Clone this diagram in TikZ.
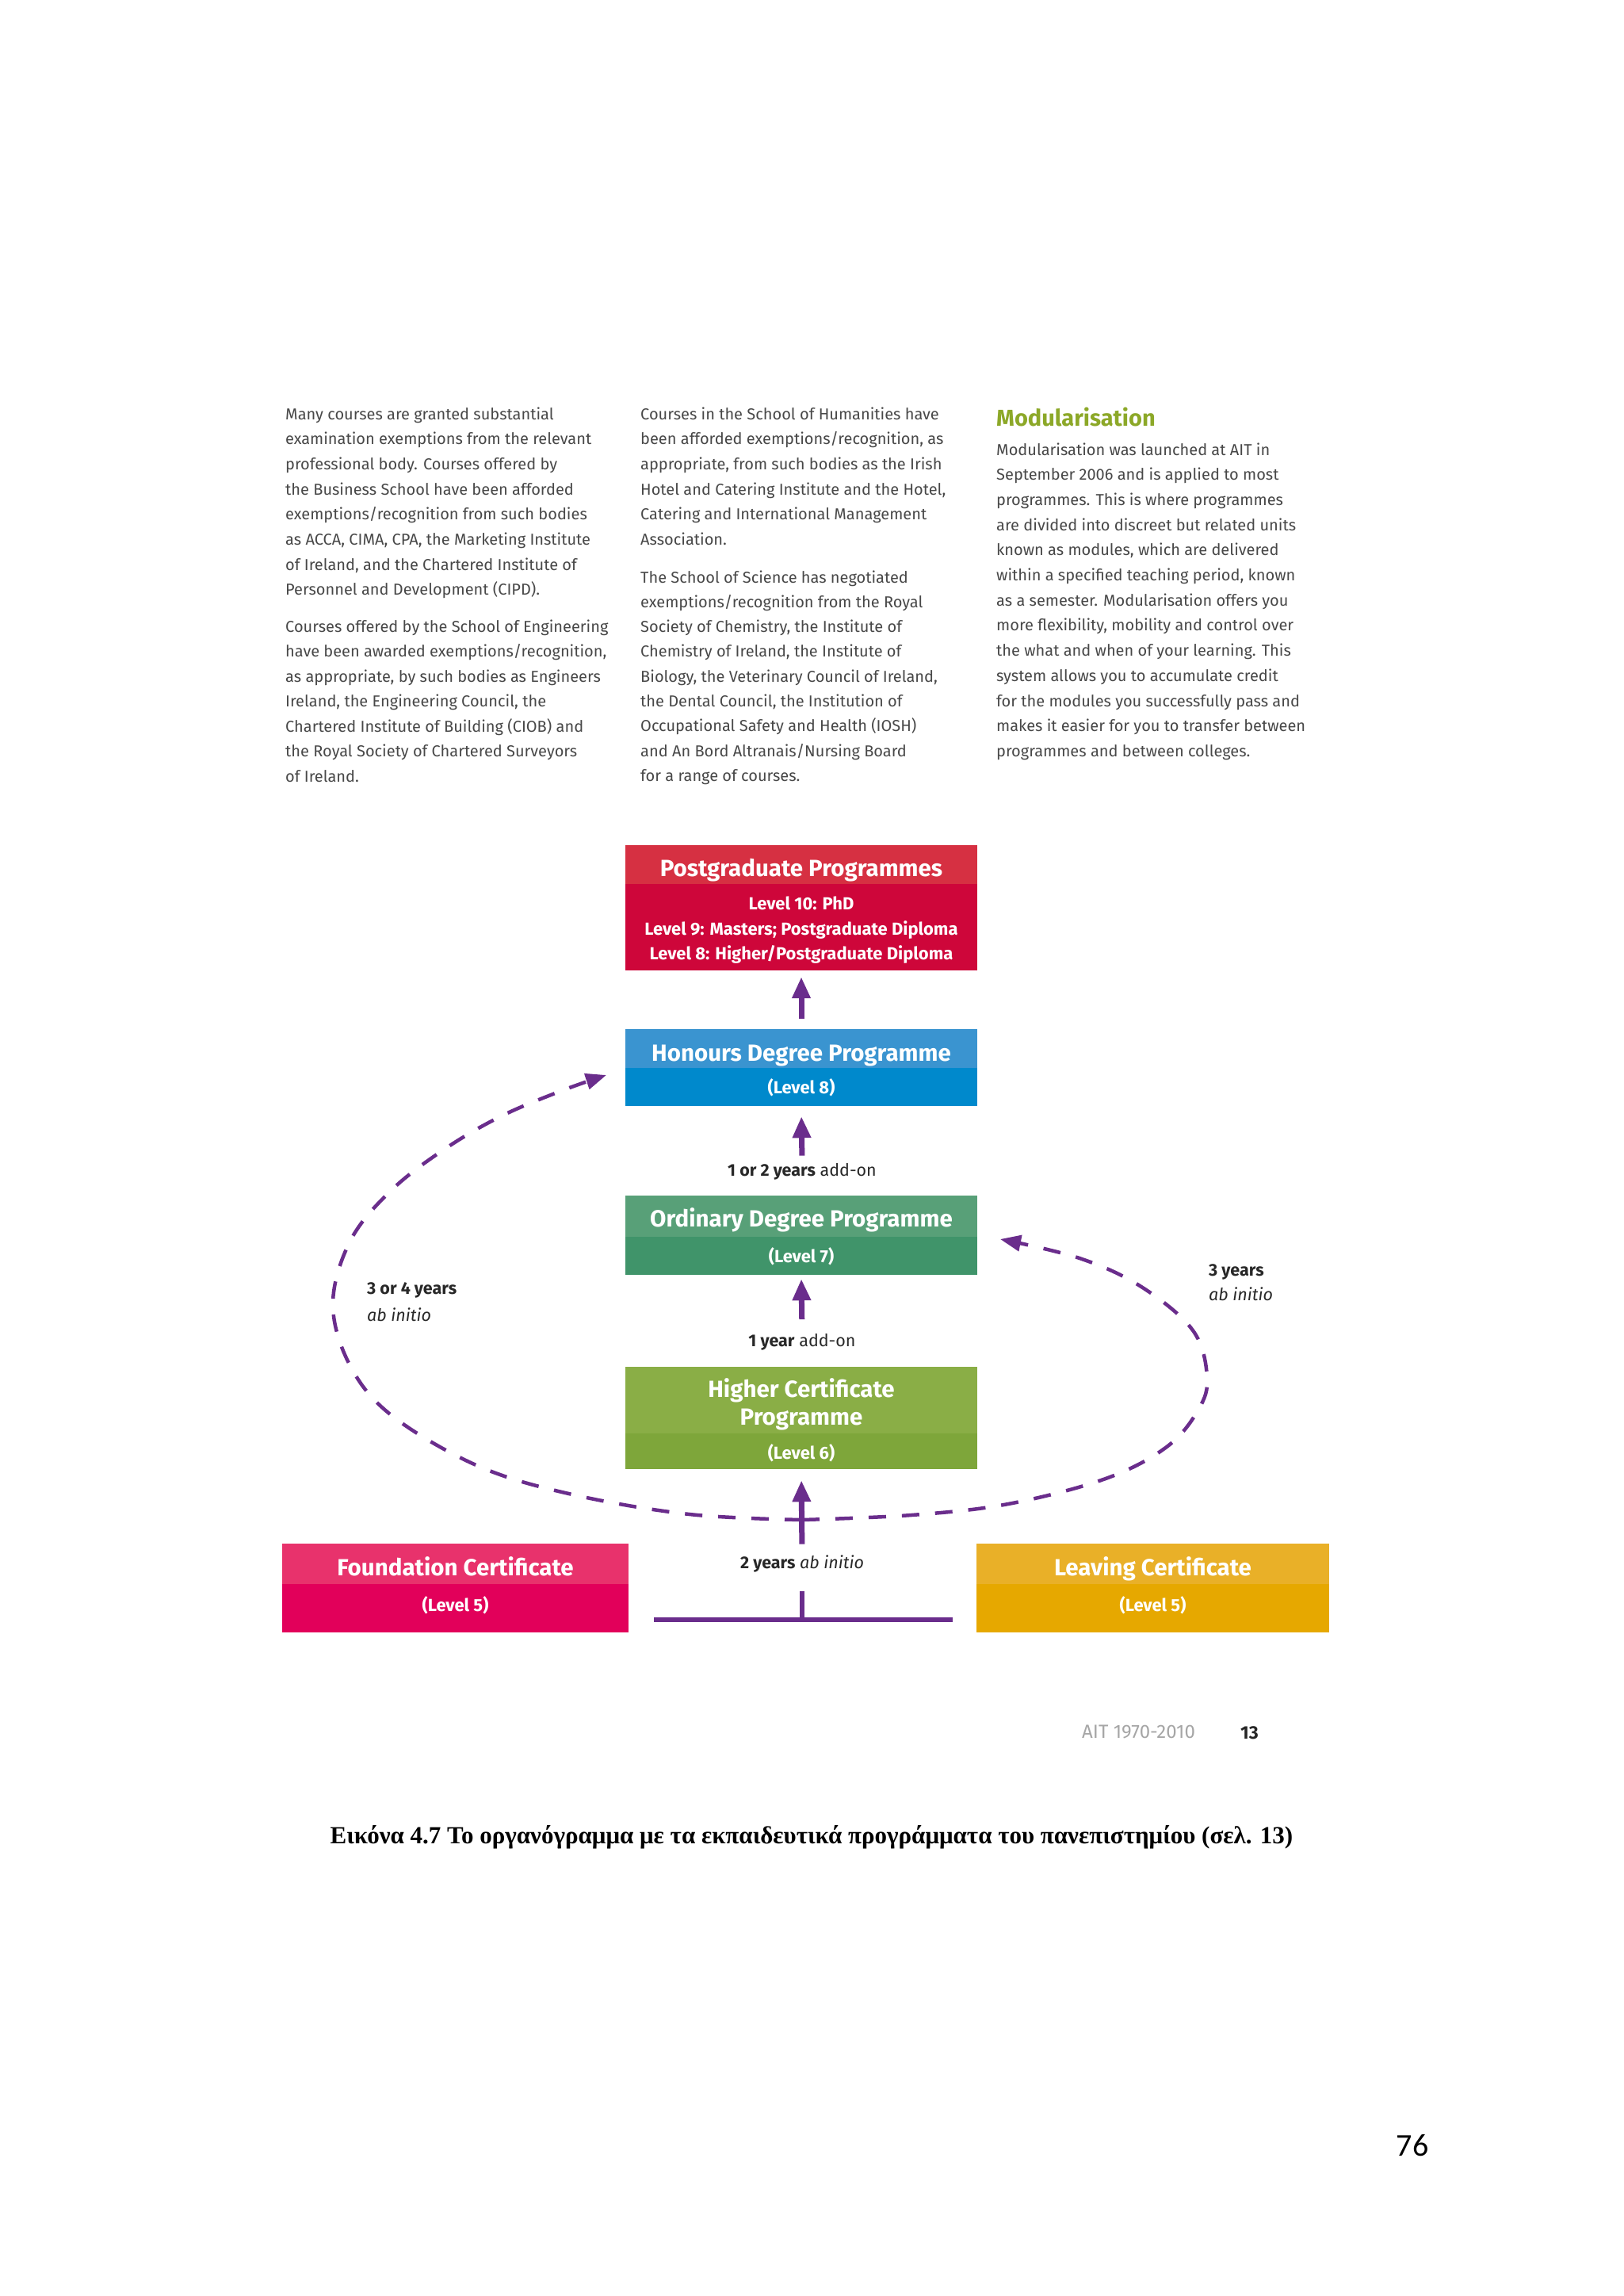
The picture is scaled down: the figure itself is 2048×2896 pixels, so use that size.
\documentclass[tikz,border=0pt]{standalone}
\usepackage{fontspec}
\setmainfont{Fira Sans}
\newfontfamily\capfont{Liberation Serif}
\newfontfamily\numfont{Carlito}
\usetikzlibrary{arrows.meta,calc}
\definecolor{purp}{RGB}{106,45,140}
\definecolor{bodygray}{RGB}{72,72,72}
\definecolor{lblgray}{RGB}{40,40,40}
\definecolor{modgreen}{RGB}{140,168,40}
\definecolor{pghead}{RGB}{214,48,66}
\definecolor{pglow}{RGB}{206,6,58}
\definecolor{honhead}{RGB}{58,148,208}
\definecolor{honlow}{RGB}{0,137,204}
\definecolor{ordhead}{RGB}{88,160,120}
\definecolor{ordlow}{RGB}{64,148,106}
\definecolor{hchead}{RGB}{138,174,70}
\definecolor{hclow}{RGB}{126,166,58}
\definecolor{fchead}{RGB}{232,50,108}
\definecolor{fclow}{RGB}{226,0,90}
\definecolor{lchead}{RGB}{233,176,40}
\definecolor{lclow}{RGB}{230,168,0}
\tikzset{
  body/.style={font={\fontsize{20}{24}\selectfont}, text=bodygray, inner sep=0pt, anchor=base west},
  boxnode/.style={rectangle, inner sep=0pt, draw=none},
  ttl/.style={font={\fontsize{29.5}{32}\selectfont\bfseries}, text=white, inner sep=0pt, anchor=base},
  sub/.style={font={\fontsize{22}{24}\selectfont\bfseries}, text=white, inner sep=0pt, anchor=base},
  lbl/.style={font={\fontsize{21.5}{24}\selectfont}, text=lblgray, inner sep=0pt},
  uparrow/.style={draw=purp, line width=7pt, -{Triangle[length=27pt,width=22pt]}},
  tline/.style={draw=purp, line width=6.5pt},
  dashcurve/.style={draw=purp, line width=4.5pt, dash pattern=on 22pt off 20pt, -{Triangle[length=26pt,width=20pt]}}
}
\newcommand\mypara[4]{%
  \foreach \t [count=\i from 0] in {#4} {\node[body] at (#1,{#2+#3*\i}) {\t};}}
\begin{document}
\begin{tikzpicture}[x=1pt,y=-1pt]
\useasboundingbox[fill=white] (0,0) rectangle (2048,2896);

% ---- text columns ----
\mypara{360}{529}{31.7}{{Many courses are granted substantial},
{examination exemptions from the relevant},
{professional body. Courses offered by},
{the Business School have been afforded},
{exemptions/recognition from such bodies},
{as ACCA, CIMA, CPA, the Marketing Institute},
{of Ireland, and the Chartered Institute of},
{Personnel and Development (CIPD).}}
\mypara{360}{797}{31.5}{{Courses offered by the School of Engineering},
{have been awarded exemptions/recognition,},
{as appropriate, by such bodies as Engineers},
{Ireland, the Engineering Council, the},
{Chartered Institute of Building (CIOB) and},
{the Royal Society of Chartered Surveyors},
{of Ireland.}}
\mypara{808}{529}{31.7}{{Courses in the School of Humanities have},
{been afforded exemptions/recognition, as},
{appropriate, from such bodies as the Irish},
{Hotel and Catering Institute and the Hotel,},
{Catering and International Management},
{Association.}}
\mypara{808}{735}{31.3}{{The School of Science has negotiated},
{exemptions/recognition from the Royal},
{Society of Chemistry, the Institute of},
{Chemistry of Ireland, the Institute of},
{Biology, the Veterinary Council of Ireland,},
{the Dental Council, the Institution of},
{Occupational Safety and Health (IOSH)},
{and An Bord Altranais/Nursing Board},
{for a range of courses.}}
\node[font={\fontsize{29}{30}\selectfont\bfseries}, text=modgreen, inner sep=0pt, anchor=base west] (modh) at (1257,537) {Modularisation};
\mypara{1257}{574}{31.7}{{Modularisation was launched at AIT in},
{September 2006 and is applied to most},
{programmes. This is where programmes},
{are divided into discreet but related units},
{known as modules, which are delivered},
{within a specified teaching period, known},
{as a semester. Modularisation offers you},
{more flexibility, mobility and control over},
{the what and when of your learning. This},
{system allows you to accumulate credit},
{for the modules you successfully pass and},
{makes it easier for you to transfer between},
{programmes and between colleges.}}

% ---- boxes ----
\node[boxnode, fill=pglow, minimum width=444pt, minimum height=158pt] (pg) at (1011,1145) {};
\fill[pghead] (pg.north west) rectangle ($(pg.north east)+(0,49)$);
\node[ttl] (pgt) at (1011,1105) {Postgraduate Programmes};
\node[sub] (pg1) at (1011,1147.5) {Level 10: PhD};
\node[sub] (pg2) at (1011,1179.5) {Level 9: Masters; Postgraduate Diploma};
\node[sub] (pg3) at (1011,1210.5) {Level 8: Higher/Postgraduate Diploma};

\node[boxnode, fill=honlow, minimum width=444pt, minimum height=97pt] (hon) at (1011,1346.5) {};
\fill[honhead] (hon.north west) rectangle ($(hon.north east)+(0,49)$);
\node[ttl] (hont) at (1011,1338) {Honours Degree Programme};
\node[sub] (honl) at (1011,1379) {(Level 8)};

\node[boxnode, fill=ordlow, minimum width=444pt, minimum height=100pt] (ord) at (1011,1558) {};
\fill[ordhead] (ord.north west) rectangle ($(ord.north east)+(0,52)$);
\node[ttl] (ordt) at (1011,1547) {Ordinary Degree Programme};
\node[sub] (ordl) at (1011,1592) {(Level 7)};

\node[boxnode, fill=hclow, minimum width=444pt, minimum height=129pt] (hc) at (1011,1788.5) {};
\fill[hchead] (hc.north west) rectangle ($(hc.north east)+(0,84)$);
\node[ttl] (hct1) at (1011,1762) {Higher Certificate};
\node[ttl] (hct2) at (1011,1797) {Programme};
\node[sub] (hcl) at (1011,1840) {(Level 6)};

\node[boxnode, fill=fclow, minimum width=437pt, minimum height=112pt] (fc) at (574.5,2003) {};
\fill[fchead] (fc.north west) rectangle ($(fc.north east)+(0,51)$);
\node[ttl] (fct) at (574.5,1987) {Foundation Certificate};
\node[sub] (fcl) at (574.5,2032) {(Level 5)};

\node[boxnode, fill=lclow, minimum width=445pt, minimum height=112pt] (lc) at (1454.5,2003) {};
\fill[lchead] (lc.north west) rectangle ($(lc.north east)+(0,51)$);
\node[ttl] (lct) at (1454.5,1987) {Leaving Certificate};
\node[sub] (lcl) at (1454.5,2032) {(Level 5)};

% ---- labels ----
\node[lbl, anchor=base] (l1) at (1012,1483) {\textbf{1 or 2 years} add-on};
\node[lbl, anchor=base] (l2) at (1012,1698.5) {\textbf{1 year} add-on};
\node[lbl, anchor=base] (l3) at (1012,1978.5) {\textbf{2 years} \textit{ab initio}};
\node[lbl, anchor=base west] (ll1) at (463,1632) {\textbf{3 or 4 years}};
\node[lbl, anchor=base west] (ll2) at (463,1666) {\textit{ab initio}};
\node[lbl, anchor=base west] (rl1) at (1525,1609) {\textbf{3 years}};
\node[lbl, anchor=base west] (rl2) at (1525,1640) {\textit{ab initio}};

% ---- dashed curves ----
\coordinate (db) at (1012,1917);
\coordinate (dl) at (765,1356);
\coordinate (dr) at (1262,1563);
\draw[dashcurve] plot[smooth, tension=0.6] coordinates {(db) (870,1910) (722,1885) (603,1849) (495,1786) (442,1723) (420,1645) (442,1565) (493,1502) (560,1450) (632,1408) (708,1376) (dl)};
\draw[dashcurve] plot[smooth, tension=0.6] coordinates {(db) (1150,1911) (1272,1897) (1395,1865) (1472,1825) (1512,1778) (1523,1737) (1505,1678) (1440,1623) (1362,1587) (dr)};

% ---- arrows ----
\draw[uparrow, shorten <=13pt, shorten >=8pt] (hon.north) -- (pg.south);
\draw[uparrow, shorten <=9pt, shorten >=13pt] (l1.north) -- (hon.south);
\draw[uparrow, shorten <=18pt, shorten >=5pt] (l2.north) -- (ord.south);
\draw[uparrow, shorten <=14pt, shorten >=14pt] (l3.north) -- (hc.south);
\coordinate (tj) at (1012,2043);
\coordinate (tl) at (825,2043);
\coordinate (tr) at (1202,2043);
\draw[tline, shorten <=24pt] (l3.south) -- (tj);
\draw[tline] (tl) -- (tr);

% ---- footer ----
\node[font={\fontsize{24}{26}\selectfont}, text=black!35, inner sep=0pt, anchor=base west] (ait) at (1365,2192) {AIT 1970-2010};
\node[font={\fontsize{23}{26}\selectfont\bfseries}, text=black!85, inner sep=0pt, anchor=base west] (pn) at (1565,2193) {13};
\node[font={\capfont\fontsize{31}{33}\selectfont\bfseries}, inner sep=0pt, anchor=base] (cap) at (1024,2325) {Εικόνα 4.7 Το οργανόγραμμα με τα εκπαιδευτικά προγράμματα του πανεπιστημίου (σελ. 13)};
\node[font={\numfont\fontsize{40}{44}\selectfont}, inner sep=0pt, anchor=base] (p76) at (1782,2719) {76};
\end{tikzpicture}
\end{document}
